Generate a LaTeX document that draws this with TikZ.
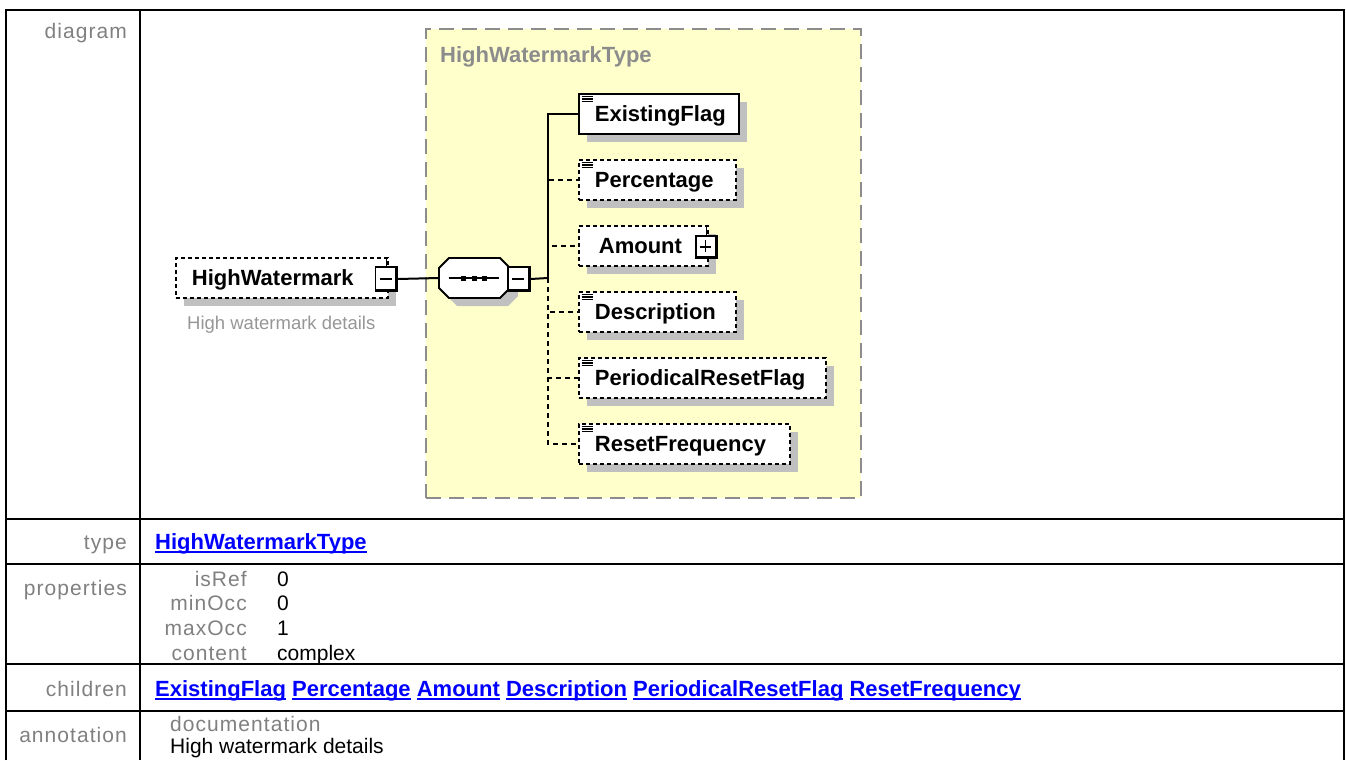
\documentclass[tikz,border=0pt]{standalone}
\usepackage{fontspec}
\setmainfont{Liberation Sans}
\newfontfamily\spacedfont[LetterSpace=5]{Liberation Sans}
\newcommand\ulink[1]{\setbox0\hbox{#1}\rlap{\rule[-3.5pt]{\wd0}{1.6pt}}\box0\relax}
\usetikzlibrary{shadows}
\definecolor{labelgrey}{RGB}{128,128,128}
\definecolor{typegrey}{RGB}{140,140,140}
\definecolor{notegrey}{RGB}{150,150,150}
\definecolor{typeyellow}{RGB}{255,255,204}
\definecolor{shadowgrey}{RGB}{192,192,192}
\definecolor{linkblue}{RGB}{0,0,255}
\begin{document}
\begin{tikzpicture}[x=1pt,y=-1pt,
  rowlabel/.style={anchor=base east, inner sep=0pt, text=labelgrey, font=\spacedfont\fontsize{21}{25}\selectfont},
  value/.style={anchor=base west, inner sep=0pt, font=\fontsize{21}{25}\selectfont},
  link/.style={anchor=base west, inner sep=0pt, text=linkblue, font=\bfseries\fontsize{22}{26}\selectfont},
  tableline/.style={line width=2.5pt},
  elem/.style={draw, fill=white, line width=1.8pt, anchor=west, align=left, inner xsep=16pt, inner ysep=0pt,
    minimum height=40pt, text height=16pt, text depth=2pt, font=\bfseries\fontsize{22}{26}\selectfont,
    drop shadow={shadow xshift=8pt, shadow yshift=-8pt, fill=shadowgrey, opacity=1}},
  optional/.style={dash pattern=on 4pt off 3pt},
  wire/.style={line width=2pt},
  optwire/.style={wire, dash pattern=on 5pt off 4pt},
  toggle/.style={draw, fill=white, line width=1.3pt, minimum width=22pt, minimum height=24pt, inner sep=0pt,
    path picture={
      \draw[line width=5pt] (path picture bounding box.south west) -- (path picture bounding box.south east) -- (path picture bounding box.north east);
      \draw[line width=1.5pt] ([xshift=4pt]path picture bounding box.west) -- ([xshift=-6pt]path picture bounding box.east);}},
  plustoggle/.style={draw, fill=white, line width=1.3pt, minimum width=21pt, minimum height=22pt, inner sep=0pt,
    path picture={
      \draw[line width=5pt] (path picture bounding box.south west) -- (path picture bounding box.south east) -- (path picture bounding box.north east);
      \draw[line width=1.5pt] ([xshift=4pt]path picture bounding box.west) -- ([xshift=-6pt]path picture bounding box.east);
      \draw[line width=1.5pt] ([xshift=-1pt,yshift=-4pt]path picture bounding box.north) -- ([xshift=-1pt,yshift=6pt]path picture bounding box.south);}}]
\useasboundingbox (0,0) rectangle (1346,760);

% table frame
\draw[tableline] (6,760) -- (6,10) -- (1344,10) -- (1344,760);
\draw[tableline] (140,10) -- (140,760);
\foreach \y in {519,564,664,711}
  \draw[tableline] (6,\y) -- (1344,\y);

% row labels
\node[rowlabel] (diagramlbl) at (127,38) {diagram};
\node[rowlabel] (typelbl) at (127,549) {type};
\node[rowlabel] (proplbl) at (127,595) {properties};
\node[rowlabel] (childlbl) at (127,696) {children};
\node[rowlabel] (annlbl) at (127,742) {annotation};

% type and properties
\node[link] (typelink) at (155,549) {\ulink{HighWatermarkType}};
\node[rowlabel] (isref) at (247,586) {isRef};
\node[value] (isrefval) at (277,586) {0};
\node[rowlabel] (minocc) at (247,610) {minOcc};
\node[value] (minoccval) at (277,610) {0};
\node[rowlabel] (maxocc) at (247,635) {maxOcc};
\node[value] (maxoccval) at (277,635) {1};
\node[rowlabel] (content) at (247,660) {content};
\node[value] (contentval) at (277,660) {complex};

% children and annotation
\node[link] (childlinks) at (155,696) {\ulink{ExistingFlag} \ulink{Percentage} \ulink{Amount} \ulink{Description} \ulink{PeriodicalResetFlag} \ulink{ResetFrequency}};
\node[rowlabel, anchor=base west] (doclbl) at (170,731) {documentation};
\node[value] (doctext) at (170,753) {High watermark details};

% diagram
\node[draw=typegrey, fill=typeyellow, line width=2pt, dash pattern=on 15pt off 8pt, anchor=north west,
  minimum width=435pt, minimum height=469pt, inner sep=0pt] (hwmtype) at (425,28) {};
\node[anchor=base west, inner sep=0pt, text=typegrey, font=\bfseries\fontsize{22}{26}\selectfont] (hwmtypename) at (440,63) {HighWatermarkType};

\node[elem, optional, text width=180pt] (hwm) at (175,278) {HighWatermark};
\node[anchor=base west, inner sep=0pt, text=notegrey, font=\fontsize{18.5}{22}\selectfont] (hwmnote) at (187,329) {High watermark details};
\node[toggle] (hwmtoggle) at (386.5,279) {};
\draw[line width=1.3pt] (hwmtoggle.north) -- (hwmtoggle.north |- hwm.north);

% sequence compositor
\fill[shadowgrey, shift={(8,8)}] (449,258) -- (500,258) -- (510,268) -- (510,288) -- (500,298) -- (449,298) -- (439,288) -- (439,268) -- cycle;
\draw[fill=white, line width=1.8pt] (449,258) -- (500,258) -- (510,268) -- (510,288) -- (500,298) -- (449,298) -- (439,288) -- (439,268) -- cycle;
\node[minimum width=71pt, minimum height=40pt, inner sep=0pt] (seq) at (474.5,278) {};
\draw[wire] ([xshift=-26pt]seq.center) -- ([xshift=24pt]seq.center);
\foreach \dx in {-11.5,-0.5,9.5}
  \fill ([xshift=\dx pt]seq.center) ++(-2.5,-2.5) rectangle ++(5,5);
\node[toggle] (seqtoggle) at (519,279) {};
\coordinate (spine) at (548,278);

\node[elem, text width=128pt] (existing) at (578,114) {ExistingFlag};
\node[elem, optional, text width=125pt] (percentage) at (578,180) {Percentage};
\node[elem, optional, text width=97pt] (amount) at (578,246) {\hspace*{4pt}Amount};
\node[elem, optional, text width=125pt] (description) at (578,312) {Description};
\node[elem, optional, text width=215pt] (periodic) at (578,378) {PeriodicalResetFlag};
\node[elem, optional, text width=179pt] (resetfreq) at (578,444) {ResetFrequency};
\node[plustoggle] (amounttoggle) at (706.5,247) {};
\draw[line width=1.3pt] (amounttoggle.north) -- (amounttoggle.north |- amount.north);

\foreach \n in {existing,percentage,description,periodic,resetfreq}
  \foreach \dy in {3.5,6,8.5}
    \draw[line width=1.3pt] ([xshift=3.5pt,yshift=-\dy pt]\n.north west) -- ++(11,0);

% connectors
\draw[wire] (hwmtoggle.east) -- (seq.west);
\draw[wire] (seqtoggle.east) -- (spine);
\draw[wire] (spine) |- (existing.west);
\foreach \c in {percentage,amount,description,periodic,resetfreq}
  \draw[optwire] (spine) |- (\c.west);
\end{tikzpicture}
\end{document}
